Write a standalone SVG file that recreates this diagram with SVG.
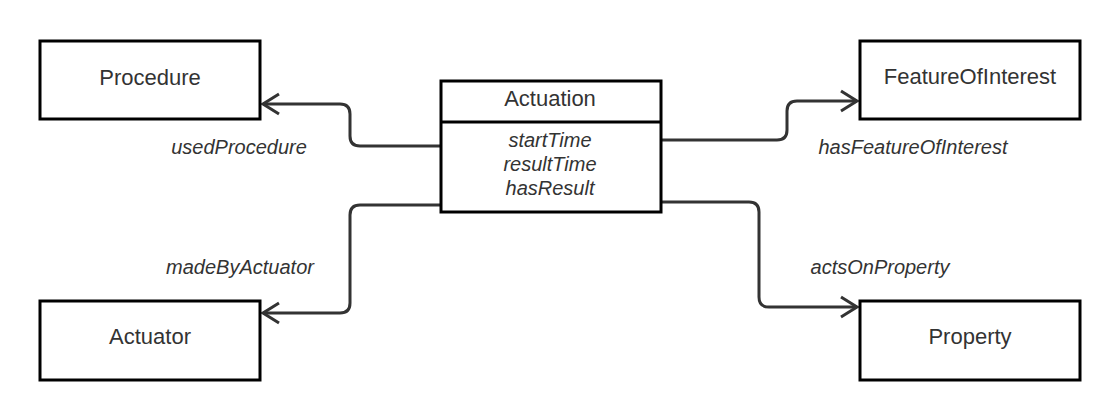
<svg xmlns="http://www.w3.org/2000/svg" width="1120" height="420" viewBox="0 0 1120 420">
<style>
.box{fill:#fff;stroke:#000;stroke-width:3}
.title{font-family:"Liberation Sans",Arial,sans-serif;font-size:22px;fill:#333;text-anchor:middle}
.attr{font-family:"Liberation Sans",Arial,sans-serif;font-size:20px;font-style:italic;fill:#333;text-anchor:middle}
.lbl{font-family:"Liberation Sans",Arial,sans-serif;font-size:20px;font-style:italic;fill:#333;text-anchor:middle}
.conn{fill:none;stroke:#333;stroke-width:3;stroke-linejoin:round}
</style>
<defs>
<marker id="arrow" markerUnits="userSpaceOnUse" markerWidth="24" markerHeight="26" viewBox="-20 -13 24 26" refX="0" refY="0" orient="auto">
<path d="M-16,-10 L0,0 L-16,10" fill="none" stroke="#333" stroke-width="3" stroke-linejoin="miter"/>
</marker>
</defs>
<rect width="1120" height="420" fill="#fff"/>
<g id="connectors">
<path class="conn" marker-end="url(#arrow)" d="M440,146 H360 Q350,146 350,136 V114 Q350,104 340,104 H263"/>
<path class="conn" marker-end="url(#arrow)" d="M440,205 H360 Q350,205 350,215 V303 Q350,313 340,313 H263"/>
<path class="conn" marker-end="url(#arrow)" d="M661,140 H777 Q787,140 787,130 V111 Q787,101 797,101 H857"/>
<path class="conn" marker-end="url(#arrow)" d="M661,202 H749 Q759,202 759,212 V297 Q759,307 769,307 H857"/>
<text class="lbl" x="239" y="154">usedProcedure</text>
<text class="lbl" x="240" y="274">madeByActuator</text>
<text class="lbl" x="913" y="154">hasFeatureOfInterest</text>
<text class="lbl" x="880" y="274">actsOnProperty</text>
</g>
<g id="procedure">
<rect class="box" x="40" y="41" width="220" height="78"/>
<text class="title" x="150" y="85">Procedure</text>
</g>
<g id="actuator">
<rect class="box" x="40" y="301" width="220" height="79"/>
<text class="title" x="150" y="344">Actuator</text>
</g>
<g id="featureOfInterest">
<rect class="box" x="860" y="41" width="220" height="78"/>
<text class="title" x="970" y="84">FeatureOfInterest</text>
</g>
<g id="property">
<rect class="box" x="860" y="301" width="220" height="79"/>
<text class="title" x="970" y="344">Property</text>
</g>
<g id="actuation">
<rect class="box" x="441" y="81" width="220" height="131"/>
<line x1="441" y1="122" x2="661" y2="122" stroke="#000" stroke-width="3"/>
<text class="title" x="550" y="106">Actuation</text>
<text class="attr" x="550" y="147">startTime</text>
<text class="attr" x="550" y="171">resultTime</text>
<text class="attr" x="550" y="195">hasResult</text>
</g>
</svg>
